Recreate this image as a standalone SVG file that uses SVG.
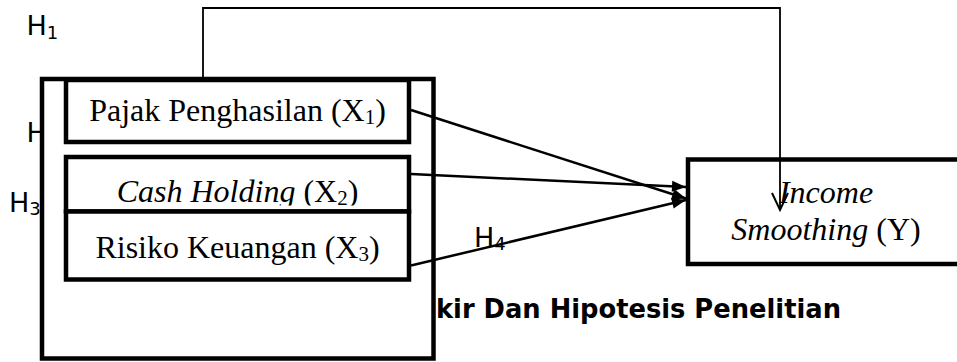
<svg xmlns="http://www.w3.org/2000/svg" width="957" height="362" viewBox="0 0 957 362">
<style>
.box{fill:#fff;stroke:#000;stroke-width:4.5}
.t{font-family:"Liberation Serif","Times New Roman",serif;font-size:32px;fill:#000}
.i{font-style:italic}
.sub{font-size:21px}
.h{font-family:"DejaVu Sans",Verdana,sans-serif;font-size:27px;fill:#000}
.hs{font-size:18px}
.title{font-family:"DejaVu Sans",Verdana,sans-serif;font-weight:bold;font-size:26px;fill:#000}
.ln{fill:none;stroke:#000;stroke-width:2.5}
.thin{fill:none;stroke:#000;stroke-width:1.8}
</style>
<defs>
<marker id="fa" markerUnits="userSpaceOnUse" markerWidth="16" markerHeight="12" refX="14" refY="5.5" orient="auto" overflow="visible"><path d="M0,0 L14,5.5 L0,11 z" fill="#000"/></marker>
<marker id="oa" markerUnits="userSpaceOnUse" markerWidth="20" markerHeight="18" refX="17" refY="8" orient="auto" overflow="visible"><polyline points="0,0 17,8 0,16" fill="none" stroke="#000" stroke-width="2"/></marker>
<clipPath id="cc"><rect x="60" y="150" width="360" height="55.5"/></clipPath>
</defs>
<rect width="957" height="362" fill="#fff"/>
<g id="labels-left">
<text class="h" x="26.5" y="35">H<tspan class="hs" dy="3.5">1</tspan></text>
<text class="h" x="26.5" y="141.5">H</text>
<text class="h" x="9" y="211.5">H<tspan class="hs" dy="3.5">3</tspan></text>
</g>
<g id="outer">
<rect class="box" x="42" y="79" width="391.5" height="279.5"/>
</g>
<g id="x1">
<rect class="box" x="66" y="80" width="343" height="62"/>
<text class="t" x="237.5" y="121" text-anchor="middle">Pajak Penghasilan (X<tspan class="sub" dy="3">1</tspan><tspan dy="-3">)</tspan></text>
</g>
<g id="x2">
<rect class="box" x="66" y="157" width="343" height="54.5"/>
<text class="t" x="237.5" y="202" text-anchor="middle" clip-path="url(#cc)"><tspan class="i">Cash Holding</tspan> (X<tspan class="sub" dy="3">2</tspan><tspan dy="-3">)</tspan></text>
</g>
<g id="x3">
<rect class="box" x="66" y="211.5" width="343" height="68"/>
<text class="t" x="237.5" y="258" text-anchor="middle">Risiko Keuangan (X<tspan class="sub" dy="3">3</tspan><tspan dy="-3">)</tspan></text>
</g>
<g id="y">
<rect class="box" x="688" y="159.5" width="276" height="104.5"/>
<text class="t i" x="826" y="203" text-anchor="middle">Income</text>
<text class="t" x="826" y="240" text-anchor="middle"><tspan class="i">Smoothing</tspan> (Y)</text>
</g>
<g id="connectors">
<polyline class="thin" points="203,77 203,8 780,8 780,210" marker-end="url(#oa)"/>
<line class="ln" x1="411" y1="110" x2="686" y2="198.5" marker-end="url(#fa)"/>
<line class="ln" x1="411" y1="174" x2="686" y2="187" marker-end="url(#fa)"/>
<line class="ln" x1="411" y1="265.5" x2="686" y2="200" marker-end="url(#fa)"/>
</g>
<text class="h" x="474" y="246.5">H<tspan class="hs" dy="3.5">4</tspan></text>
<text class="title" x="436" y="318" textLength="405" lengthAdjust="spacingAndGlyphs">kir Dan Hipotesis Penelitian</text>
</svg>
